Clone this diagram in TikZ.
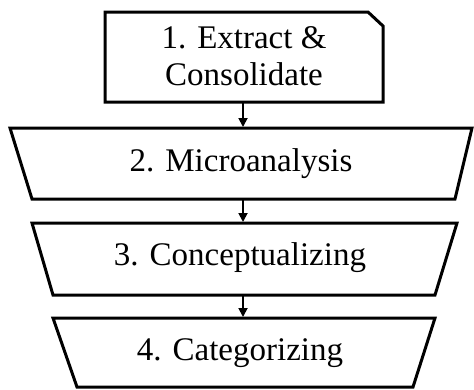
\documentclass[tikz,border=0pt]{standalone}
\usepackage{fontspec}
\setmainfont{Liberation Serif}
\usetikzlibrary{arrows.meta}
\begin{document}
\begin{tikzpicture}[x=1pt,y=-1pt,
  shapeline/.style={draw=black,line width=3pt,line join=miter,fill=white},
  lbl/.style={font=\fontsize{33}{37}\selectfont,align=center,inner sep=0pt},
  conn/.style={line width=1.8pt,-{Triangle[length=9pt,width=9pt]}}]
\useasboundingbox (0,0) rectangle (474,389);
% shapes
\draw[shapeline] (105,12) -- (368,12) -- (383,26) -- (383,102) -- (105,102) -- cycle;
\draw[shapeline] (10,128) -- (472,128) -- (455,199) -- (32,199) -- cycle;
\draw[shapeline] (32,223) -- (457,223) -- (435,295) -- (53,295) -- cycle;
\draw[shapeline] (53,318) -- (435,318) -- (413,387) -- (77,387) -- cycle;
% labels
\node[lbl] (n1) at (244,56) {1. Extract \&\\Consolidate};
\node[lbl] (n2) at (241,164) {2. Microanalysis};
\node[lbl] (n3) at (240,258) {3. Conceptualizing};
\node[lbl] (n4) at (240,353) {4. Categorizing};
% connector ends
\coordinate (s1) at (243,102);
\coordinate (t2) at (243,127);
\coordinate (s2) at (243,199);
\coordinate (t3) at (243,222);
\coordinate (s3) at (243,295);
\coordinate (t4) at (243,317);
\draw[conn] (s1) -- (t2);
\draw[conn] (s2) -- (t3);
\draw[conn] (s3) -- (t4);
\end{tikzpicture}
\end{document}
